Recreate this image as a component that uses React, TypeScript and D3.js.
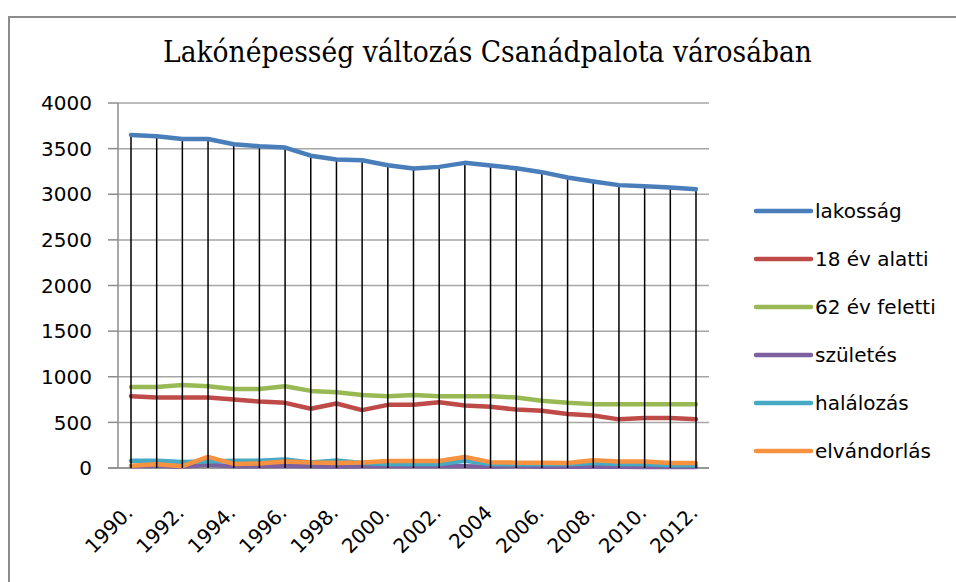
import React from "react";
import * as d3 from "d3";

const years = [1990,1991,1992,1993,1994,1995,1996,1997,1998,1999,2000,2001,2002,2003,2004,2005,2006,2007,2008,2009,2010,2011,2012];
const xLabels = ["1990.","","1992.","","1994.","","1996.","","1998.","","2000.","","2002.","","2004","","2006.","","2008.","","2010.","","2012."];
const lakossag = [3650,3635,3606,3606,3548,3526,3511,3423,3380,3373,3318,3283,3300,3344,3314,3285,3242,3183,3139,3100,3089,3074,3056];
const alatti18 = [787,772,772,772,750,728,714,649,707,634,692,692,721,685,670,641,627,591,576,533,547,547,533];
const feletti62 = [888,888,910,896,866,866,896,845,830,801,787,801,787,787,787,772,736,714,700,700,700,700,700];
const szuletes = [20,25,15,35,20,20,25,20,15,20,20,20,20,20,15,20,15,15,15,15,10,15,10];
const halalozas = [80,80,65,70,80,80,92,60,82,55,45,45,45,78,45,40,40,40,55,45,45,30,30];
const elvandorlas = [25,40,20,122,45,50,72,60,55,60,76,76,76,122,64,58,58,56,86,72,72,56,56];
const yTicks = [0,500,1000,1500,2000,2500,3000,3500,4000];
const seriesNames = ["lakosság","18 év alatti","62 év feletti","születés","halálozás","elvándorlás"];
const seriesColors = ["#4A7EBB","#BE4B48","#98B954","#7D60A0","#46AAC5","#F69240"];
const title = "Lakónépesség változás Csanádpalota városában";

export default function App() {
  const W = 956, H = 582;
  const plotLeft = 118, plotRight = 709, plotTop = 103, plotBottom = 468;
  const x = d3.scalePoint<number>().domain(years).range([131, 696]);
  const y = d3.scaleLinear().domain([0, 4000]).range([plotBottom, plotTop]);
  const allSeries = [lakossag, alatti18, feletti62, szuletes, halalozas, elvandorlas];
  const line = d3.line<number>().x((_, i) => x(years[i])!).y((v) => y(v));
  const font = "'DejaVu Sans', sans-serif";
  const drawOrder = [1, 2, 3, 4, 5];

  return (
    <svg width={W} height={H} style={{ position: "absolute", left: 0, top: 0 }}>
      <rect x={0} y={0} width={W} height={H} fill="#ffffff" />
      <path d={`M9,${H} L9,17 L${W},17`} fill="none" stroke="#8c8c8c" strokeWidth={2} />
      <text x={487.5} y={62} textAnchor="middle" fontFamily="'DejaVu Serif', serif" fontSize={29}
        textLength={649} lengthAdjust="spacingAndGlyphs" fill="#000">{title}</text>
      {yTicks.map((t) => (
        <g key={t}>
          <line x1={plotLeft} x2={plotRight} y1={y(t)} y2={y(t)} stroke="#a6a6a6" strokeWidth={1.5} />
          <line x1={108} x2={plotLeft} y1={y(t)} y2={y(t)} stroke="#8c8c8c" strokeWidth={1.5} />
          <text x={92} y={y(t)} dy="0.36em" textAnchor="end" fontFamily={font} fontSize={20} fill="#000">{t}</text>
        </g>
      ))}
      <line x1={plotLeft} x2={plotLeft} y1={plotTop} y2={plotBottom} stroke="#8c8c8c" strokeWidth={1.5} />
      <line x1={108} x2={plotRight} y1={plotBottom} y2={plotBottom} stroke="#8c8c8c" strokeWidth={1.5} />
      {drawOrder.map((si) => (
        <path key={si} d={line(allSeries[si])!} fill="none" stroke={seriesColors[si]} strokeWidth={4.5} strokeLinejoin="round" strokeLinecap="round" />
      ))}
      {years.map((yr, i) => (
        <line key={yr} x1={x(yr)} x2={x(yr)} y1={y(lakossag[i])} y2={y(0)} stroke="#000" strokeWidth={1.5} />
      ))}
      <path d={line(lakossag)!} fill="none" stroke={seriesColors[0]} strokeWidth={4.5} strokeLinejoin="round" strokeLinecap="round" />
      {years.map((yr, i) => xLabels[i] ? (
        <text key={yr} transform={`translate(${x(yr)! + 3},514) rotate(-45)`} textAnchor="end"
          fontFamily={font} fontSize={20} fill="#000">{xLabels[i]}</text>
      ) : null)}
      {seriesNames.map((n, i) => (
        <g key={n} transform={`translate(0,${211 + i * 48})`}>
          <line x1={756} x2={811} y1={0} y2={0} stroke={seriesColors[i]} strokeWidth={4.5} strokeLinecap="round" />
          <text x={815} y={0} dy="0.33em" fontFamily={font} fontSize={20} fill="#000">{n}</text>
        </g>
      ))}
    </svg>
  );
}
